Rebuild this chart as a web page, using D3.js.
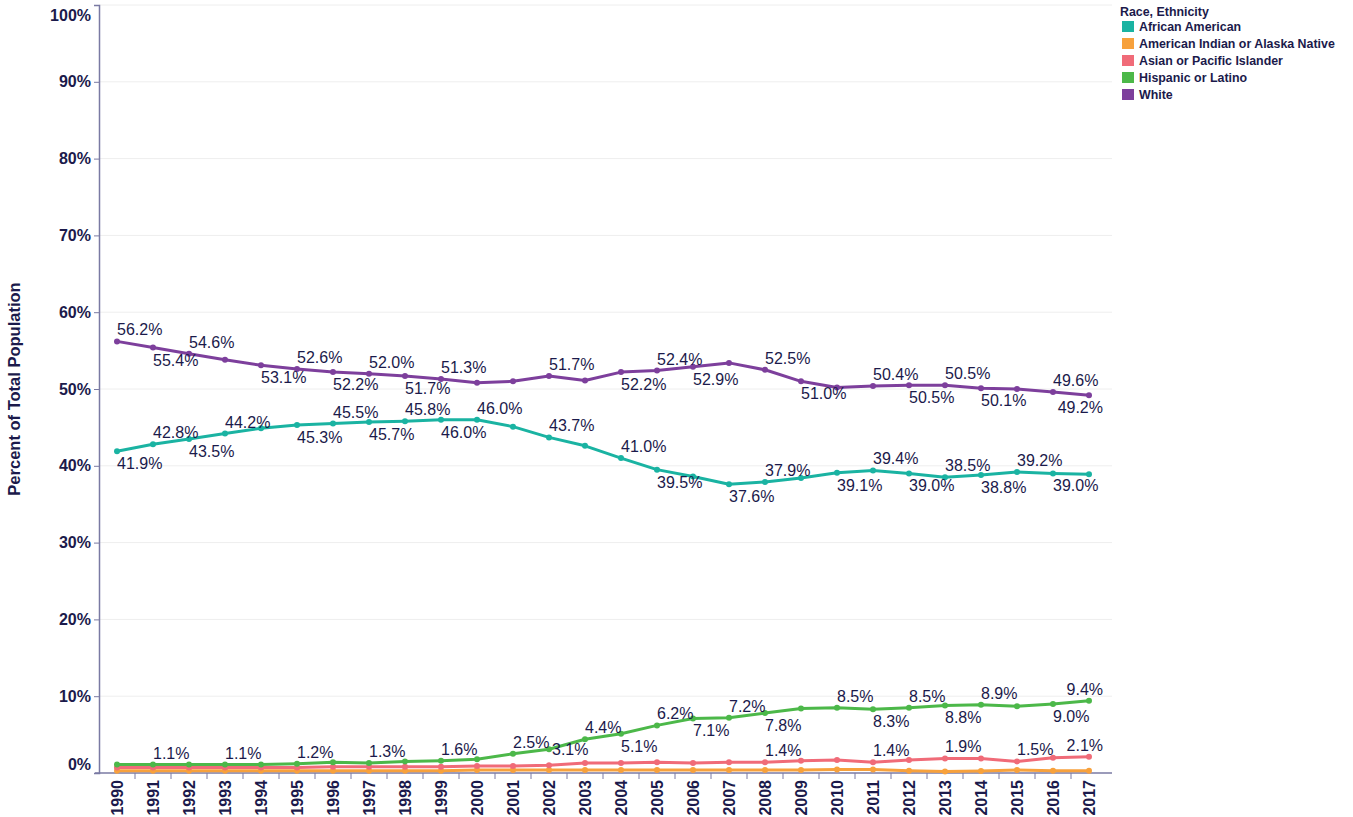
<!DOCTYPE html>
<html>
<head>
<meta charset="utf-8">
<script src="https://cdn.jsdelivr.net/npm/d3@7"></script>
<style>
  body { margin: 0; background: #fff; }
  svg text { font-family: Arial, "Liberation Sans", sans-serif; }
</style>
</head>
<body>
<div id="chart"></div>
<script>
'use strict'

// categories
const years = d3.range(1990, 2018)
const yTicks = [0, 10, 20, 30, 40, 50, 60, 70, 80, 90, 100]

// series values (percent of total population)
const africanAmerican = [41.9, 42.8, 43.5, 44.2, 44.9, 45.3, 45.5, 45.7, 45.8, 46.0, 46.0, 45.1, 43.7, 42.6,
  41.0, 39.5, 38.6, 37.6, 37.9, 38.4, 39.1, 39.4, 39.0, 38.5, 38.8, 39.2, 39.0, 38.9]
const americanIndian = [0.3, 0.3, 0.3, 0.3, 0.3, 0.3, 0.3, 0.3, 0.3, 0.3, 0.4, 0.4, 0.4, 0.4,
  0.4, 0.4, 0.4, 0.4, 0.4, 0.4, 0.45, 0.45, 0.3, 0.2, 0.25, 0.4, 0.3, 0.3]
const asianPacific = [0.7, 0.7, 0.7, 0.7, 0.7, 0.7, 0.8, 0.8, 0.8, 0.8, 0.9, 0.9, 1.0, 1.3,
  1.3, 1.4, 1.3, 1.4, 1.4, 1.6, 1.7, 1.4, 1.7, 1.9, 1.9, 1.5, 2.0, 2.1]
const hispanic = [1.1, 1.1, 1.1, 1.1, 1.1, 1.2, 1.4, 1.3, 1.5, 1.6, 1.8, 2.5, 3.1, 4.4,
  5.1, 6.2, 7.1, 7.2, 7.8, 8.4, 8.5, 8.3, 8.5, 8.8, 8.9, 8.7, 9.0, 9.4]
const white = [56.2, 55.4, 54.6, 53.8, 53.1, 52.6, 52.2, 52.0, 51.7, 51.3, 50.8, 51.0, 51.7, 51.1,
  52.2, 52.4, 52.9, 53.4, 52.5, 51.0, 50.2, 50.4, 50.5, 50.5, 50.1, 50.0, 49.6, 49.2]

// which points carry a data label, and on which side (a = above, b = below, c = beside)
const whiteLabels = [[1990, 'a'], [1991, 'b'], [1992, 'a'], [1994, 'b'], [1995, 'a'], [1996, 'b'], [1997, 'a'],
  [1998, 'b'], [1999, 'a'], [2002, 'a'], [2004, 'b'], [2005, 'a'], [2006, 'b'], [2008, 'a'], [2009, 'b'],
  [2011, 'a'], [2012, 'b'], [2013, 'a'], [2014, 'b'], [2016, 'a'], [2017, 'b']]
const africanAmericanLabels = [[1990, 'b'], [1991, 'a'], [1992, 'b'], [1993, 'a'], [1995, 'b'], [1996, 'a'],
  [1997, 'b'], [1998, 'a'], [1999, 'b'], [2000, 'a'], [2002, 'a'], [2004, 'a'], [2005, 'b'], [2007, 'b'],
  [2008, 'a'], [2010, 'b'], [2011, 'a'], [2012, 'b'], [2013, 'a'], [2014, 'b'], [2015, 'a'], [2016, 'b']]
const hispanicLabels = [[1991, 'a'], [1993, 'a'], [1995, 'a'], [1997, 'a'], [1999, 'a'], [2001, 'a'], [2002, 'c'],
  [2003, 'a'], [2004, 'b'], [2005, 'a'], [2006, 'b'], [2007, 'a'], [2008, 'b'], [2010, 'a'], [2011, 'b'],
  [2012, 'a'], [2013, 'b'], [2014, 'a'], [2016, 'b'], [2017, 'a']]
const asianPacificLabels = [[2008, 'a'], [2011, 'a'], [2013, 'a'], [2015, 'a'], [2017, 'a']]
const americanIndianLabels = []

const seriesNames = ['African American', 'American Indian or Alaska Native', 'Asian or Pacific Islander',
  'Hispanic or Latino', 'White']
const seriesColors = ['#1ab3a2', '#f7a13c', '#f06b78', '#4cb849', '#7d3f9c']

const series = [
  { name: seriesNames[0], values: africanAmerican, labels: africanAmericanLabels },
  { name: seriesNames[1], values: americanIndian, labels: americanIndianLabels },
  { name: seriesNames[2], values: asianPacific, labels: asianPacificLabels },
  { name: seriesNames[3], values: hispanic, labels: hispanicLabels },
  { name: seriesNames[4], values: white, labels: whiteLabels }
]

const ink = '#1b1a4b'
const W = 1353
const H = 817
const plot = { left: 99, right: 1107, top: 5, bottom: 773 }

const svg = d3.select('#chart')
  .append('svg')
    .attr('width', W)
    .attr('height', H)

const x = d3.scalePoint()
  .domain(years)
  .range([plot.left, plot.right])
  .padding(0.5)

const y = d3.scaleLinear()
  .domain([0, 100])
  .range([plot.bottom, plot.top])

// gridlines
svg.append('g')
  .selectAll('line')
  .data(yTicks.filter(t => t > 0))
  .join('line')
    .attr('x1', plot.left)
    .attr('x2', 1112)
    .attr('y1', d => y(d))
    .attr('y2', d => y(d))
    .attr('stroke', '#eeeeee')
    .attr('stroke-width', 1)

// y axis
const yAxis = svg.append('g')
  .attr('transform', `translate(${plot.left}, 0)`)
  .call(d3.axisLeft(y).tickValues(yTicks).tickSize(5).tickPadding(3).tickFormat(d => d + '%'))
yAxis.select('.domain').attr('stroke', '#7a7aa3').attr('stroke-width', 1.5)
yAxis.selectAll('.tick line').attr('stroke', '#7a7aa3')
yAxis.selectAll('.tick text')
  .attr('fill', ink)
  .style('font-size', '16px')
  .style('font-weight', 'bold')
  .attr('dy', d => d === 100 ? '0.95em' : d === 0 ? '-0.25em' : '0.32em')

// x axis with ticks between categories
const step = x.step()
const xAxis = svg.append('g')
  .attr('transform', `translate(0, ${plot.bottom})`)
xAxis.append('line')
  .attr('x1', plot.left - 4)
  .attr('x2', 1112)
  .attr('stroke', '#7a7aa3')
  .attr('stroke-width', 1.5)
xAxis.selectAll('line.sep')
  .data(years.slice(0, -1))
  .join('line')
    .attr('class', 'sep')
    .attr('x1', d => x(d) + step / 2)
    .attr('x2', d => x(d) + step / 2)
    .attr('y1', 0)
    .attr('y2', 6)
    .attr('stroke', '#7a7aa3')
xAxis.selectAll('text')
  .data(years)
  .join('text')
    .attr('transform', d => `translate(${x(d) + 6}, 7) rotate(-90)`)
    .attr('text-anchor', 'end')
    .attr('fill', ink)
    .style('font-size', '16px')
    .style('font-weight', 'bold')
    .text(d => d)

// y axis title
svg.append('text')
  .attr('transform', `translate(20, ${(plot.top + plot.bottom) / 2}) rotate(-90)`)
  .attr('text-anchor', 'middle')
  .attr('fill', ink)
  .style('font-size', '16.5px')
  .style('font-weight', 'bold')
  .text('Percent of Total Population')

// lines and points
const line = d3.line()
  .x((d, i) => x(years[i]))
  .y(d => y(d))

const seriesG = svg.append('g')
  .selectAll('g')
  .data(series)
  .join('g')

seriesG.append('path')
  .attr('fill', 'none')
  .attr('stroke', (d, i) => seriesColors[i])
  .attr('stroke-width', 3)
  .attr('stroke-linejoin', 'round')
  .attr('d', d => line(d.values))

seriesG.each(function (s, si) {
  d3.select(this).selectAll('circle')
    .data(s.values)
    .join('circle')
      .attr('cx', (d, i) => x(years[i]))
      .attr('cy', d => y(d))
      .attr('r', 3)
      .attr('fill', seriesColors[si])
})

// data labels
const fmt = d => d3.format('.1f')(d) + '%'
const labelG = svg.append('g')
series.forEach(s => {
  s.labels.forEach(([yr, side]) => {
    const v = s.values[years.indexOf(yr)]
    const px = x(yr)
    const py = y(v)
    const t = labelG.append('text')
      .attr('fill', ink)
      .style('font-size', '16px')
      .text(fmt(v))
    const dy = side === 'a' ? -6 : side === 'b' ? 18 : 6
    const dx = side === 'c' ? 3 : 0
    let tx = px + dx
    const w = t.node().getComputedTextLength()
    if (tx + w > 1103) tx = 1103 - w
    t.attr('x', tx).attr('y', py + dy)
  })
})

// legend
const legend = svg.append('g')
  .attr('transform', 'translate(1120, 0)')
legend.append('text')
  .attr('x', 0)
  .attr('y', 16)
  .attr('fill', ink)
  .style('font-size', '12.4px')
  .style('font-weight', 'bold')
  .text('Race, Ethnicity')
const items = legend.selectAll('g.item')
  .data(seriesNames)
  .join('g')
    .attr('class', 'item')
    .attr('transform', (d, i) => `translate(2, ${21 + i * 17})`)
items.append('rect')
  .attr('width', 12)
  .attr('height', 11)
  .attr('fill', (d, i) => seriesColors[i])
items.append('text')
  .attr('x', 17)
  .attr('y', 10)
  .attr('fill', ink)
  .style('font-size', '12.4px')
  .style('font-weight', 'bold')
  .text(d => d)
</script>
</body>
</html>
